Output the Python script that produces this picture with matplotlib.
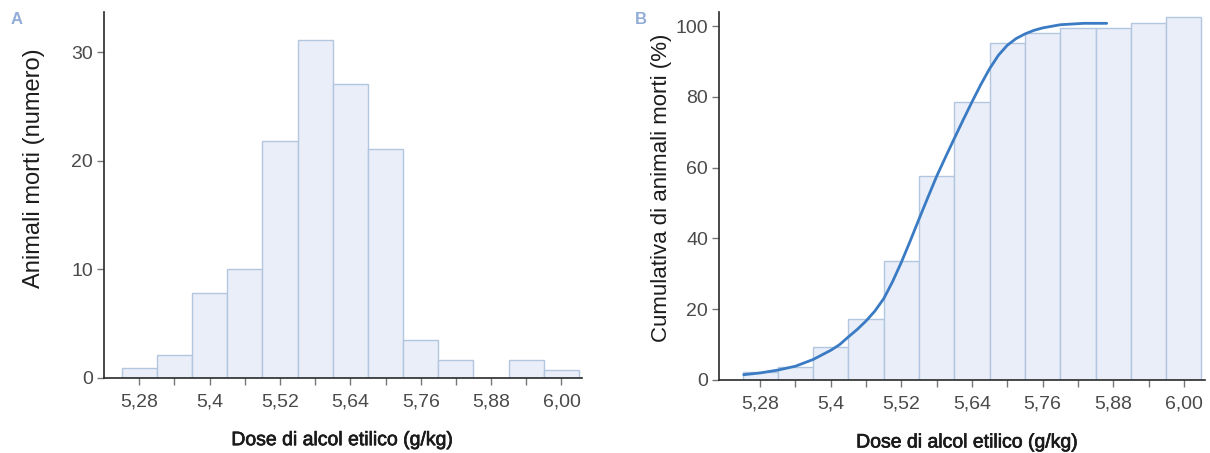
import matplotlib
matplotlib.use("Agg")
import matplotlib.pyplot as plt
import matplotlib.patheffects as pe
from matplotlib.ticker import FixedLocator, FixedFormatter

# ---- data ----
dose = [5.28, 5.34, 5.40, 5.46, 5.52, 5.58, 5.64, 5.70, 5.76, 5.82, 5.88, 5.94, 6.00]
deaths = [0.9, 2.1, 7.8, 10.0, 21.8, 31.1, 27.1, 21.1, 3.5, 1.7, 0.0, 1.7, 0.7]
cumulative = [2.4, 3.8, 9.4, 17.2, 33.5, 57.6, 78.7, 95.1, 98.2, 99.6, 99.4, 101.0, 102.5]
curve_x = [5.252, 5.28, 5.31, 5.34, 5.37, 5.40, 5.415, 5.43, 5.445, 5.46,
           5.475, 5.49, 5.505, 5.52, 5.535, 5.55, 5.565, 5.58, 5.595, 5.61,
           5.625, 5.64, 5.655, 5.67, 5.685, 5.70, 5.715, 5.73, 5.745, 5.76,
           5.79, 5.83, 5.869]
curve_y = [1.5, 2.0, 2.8, 3.9, 5.8, 8.4, 10.0, 12.2, 14.3, 16.7,
           19.5, 23.0, 27.8, 33.3, 39.3, 45.5, 51.6, 57.6, 63.0, 68.3,
           73.5, 78.6, 83.5, 88.0, 91.8, 94.6, 96.5, 97.8, 98.8, 99.5,
           100.4, 100.8, 100.8]
major_ticks = [5.28, 5.40, 5.52, 5.64, 5.76, 5.88, 6.00]
major_labels = ["5,28", "5,4", "5,52", "5,64", "5,76", "5,88", "6,00"]
yticks_a = [0, 10, 20, 30]
yticks_b = [0, 20, 40, 60, 80, 100]

plt.rcParams['font.family'] = ['Liberation Sans', 'DejaVu Sans']

W, H = 1210, 453
fig = plt.figure(figsize=(W / 100, H / 100), dpi=100)
fig.patch.set_facecolor("white")

def px_axes(l, r, b, t):
    return fig.add_axes([l / W, 1 - b / H, (r - l) / W, (b - t) / H])

axA = px_axes(104, 582, 378, 12)
axB = px_axes(719, 1205, 380, 12)

bar_fc = "#e9eef8"
bar_ec = "#b3c6df"
tick_col = "#4a4a4a"
lab_col = "#1c1c1c"
heavy = [pe.withStroke(linewidth=0.5, foreground="#1a1a1a")]

def style(ax):
    for s in ["top", "right"]:
        ax.spines[s].set_visible(False)
    for s in ["left", "bottom"]:
        ax.spines[s].set_color("#2a2a2a")
        ax.spines[s].set_linewidth(1.2)
    ax.set_facecolor("none")
    ax.xaxis.set_major_locator(FixedLocator(major_ticks))
    ax.xaxis.set_major_formatter(FixedFormatter(major_labels))
    ax.xaxis.set_minor_locator(FixedLocator(dose))
    ax.tick_params(axis="both", which="both", direction="out", length=5,
                   width=1.0, color="#777777", labelsize=14, labelcolor=tick_col)
    ax.tick_params(axis="x", which="major", pad=6)
    ax.tick_params(axis="y", pad=3)

# Panel A
axA.bar(dose, deaths, width=0.06, color=bar_fc, edgecolor=bar_ec, linewidth=1.0)
axA.set_xlim(5.22, 6.035)
axA.set_ylim(0, 33.7)
axA.set_yticks(yticks_a)
style(axA)
axA.set_xlabel("Dose di alcol etilico (g/kg)", fontsize=14, color="#1a1a1a",
               path_effects=heavy)
axA.xaxis.set_label_coords(0.5, -0.148)
axA.set_ylabel("Animali morti (numero)", fontsize=17, color=lab_col)
axA.yaxis.set_label_coords(-0.123, 0.574)

# Panel B
axB.bar(dose, cumulative, width=0.06, color=bar_fc, edgecolor=bar_ec, linewidth=1.0)
axB.plot(curve_x, curve_y, color="#3a7bc4", linewidth=2.0, solid_capstyle="round",
         solid_joinstyle="round")
axB.set_xlim(5.21, 6.036)
axB.set_ylim(0, 104)
axB.set_yticks(yticks_b)
style(axB)
axB.set_xlabel("Dose di alcol etilico (g/kg)", fontsize=14, color="#1a1a1a",
               path_effects=heavy)
axB.xaxis.set_label_coords(0.512, -0.148)
axB.set_ylabel("Cumulativa di animali morti (%)", fontsize=16, color=lab_col)
axB.yaxis.set_label_coords(-0.097, 0.522)

# panel letters
fig.text(17 / W, 1 - 19 / H, "A", fontsize=12, fontweight="bold", color="#92acd8",
         ha="center", va="center")
fig.text(641 / W, 1 - 19 / H, "B", fontsize=12, fontweight="bold", color="#92acd8",
         ha="center", va="center")

fig.savefig("out.png", dpi=100, facecolor="white")
